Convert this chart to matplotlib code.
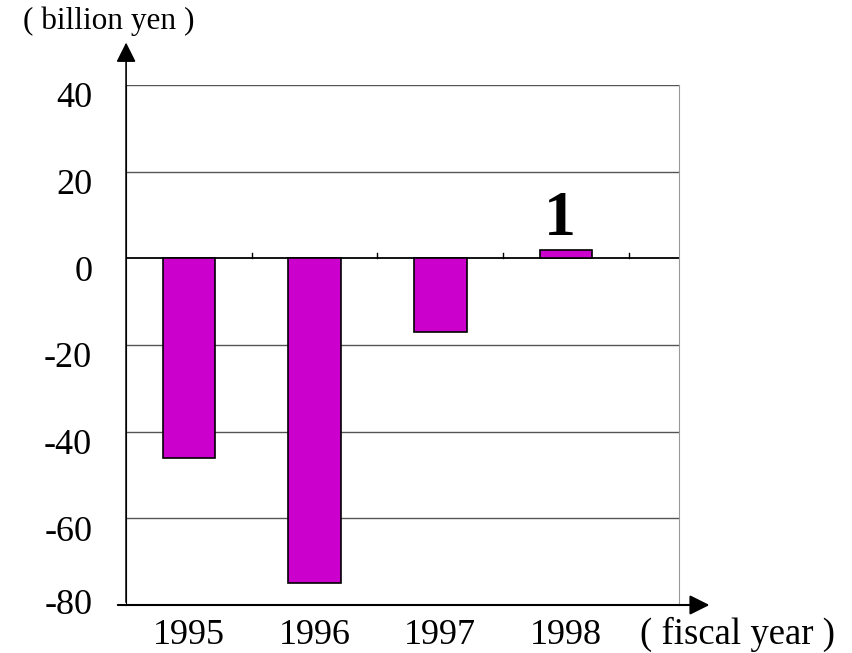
import numpy as np
import matplotlib.pyplot as plt

years = ["1995", "1996", "1997", "1998"]
values = [-46, -75, -17, 2.0]
label_1998 = "1"
yticks = [-80, -60, -40, -20, 0, 20, 40]

plt.rcParams['font.family'] = ['Liberation Serif', 'DejaVu Serif']

fig = plt.figure(figsize=(8.52, 6.53), dpi=100)
ax = fig.add_axes([0.148, 0.0735, 0.649, 0.7963])

x = np.arange(len(years))
ax.bar(x, values, width=0.42, color='#CC00CC', edgecolor='black', linewidth=1.2, zorder=3)

ax.set_xlim(-0.5, 3.9)
ax.set_ylim(-80, 40)
ax.set_yticks([])
ax.set_xticks([])

# y labels sit a little below their gridlines (except the bottom one)
for v in yticks:
    off = 0 if v == -80 else -3.2
    ax.text(-0.77, v + off, str(v), ha='right', va='center', fontsize=26, clip_on=False)

# gridlines
for v in yticks[1:]:
    if v == 0:
        ax.axhline(0, color='black', lw=1.3, zorder=2)
    else:
        ax.axhline(v, color='#555555', lw=1.0, zorder=1)
# category ticks on zero line
for b in np.arange(0.5, 4.0, 1.0):
    ax.plot([b, b], [0, 1.3], color='black', lw=1, zorder=2)

for s in ['top', 'bottom']:
    ax.spines[s].set_visible(False)
ax.spines['right'].set_color('#999999')
ax.spines['left'].set_color('black')

# year labels
for i, yr in enumerate(years):
    ax.text(i, -89.0, yr, ha='center', va='baseline', fontsize=26, clip_on=False)
ax.text(3.59, -89.0, "( fiscal year )", ha='left', va='baseline', fontsize=26.5, clip_on=False)

ax.text(2.95, 2.1, label_1998, ha='center', va='bottom', fontsize=46, fontweight='bold')

# axis arrows
ax.annotate('', xy=(1.06, 0.0), xytext=(-0.02, 0.0), xycoords='axes fraction',
            arrowprops=dict(arrowstyle='-|>', color='black', lw=1.5, mutation_scale=30))
ax.annotate('', xy=(0.0, 1.087), xytext=(0.0, 0.0), xycoords='axes fraction',
            arrowprops=dict(arrowstyle='-|>', color='black', lw=1.2, mutation_scale=30))

fig.text(0.027, 0.968, "( billion yen )", ha='left', va='center', fontsize=22.5)

fig.savefig('out.png', dpi=100)
